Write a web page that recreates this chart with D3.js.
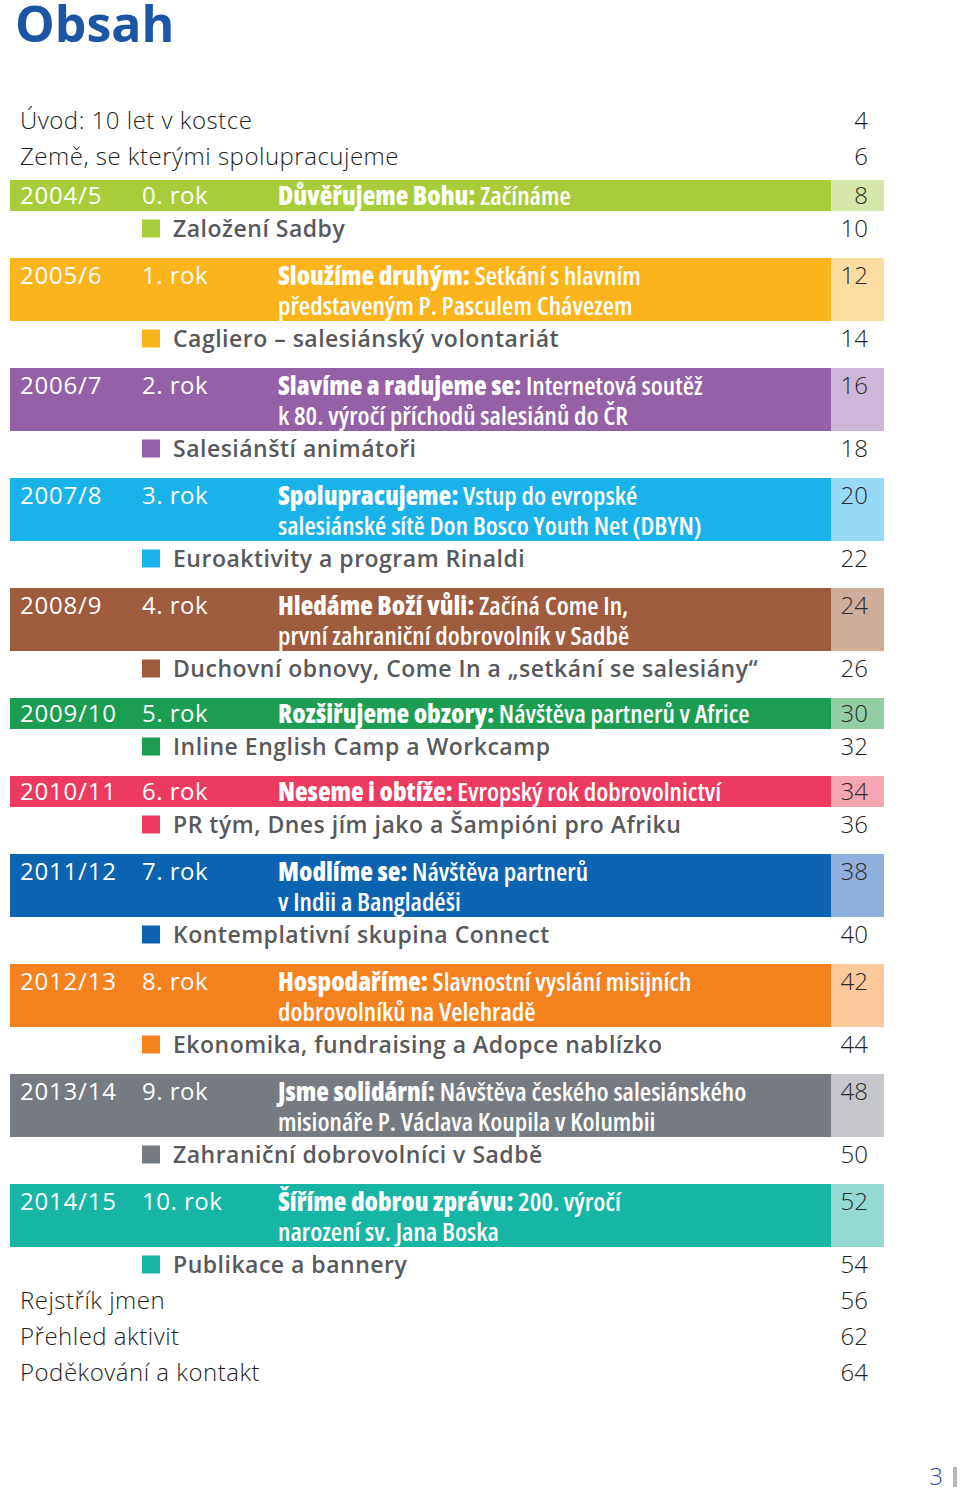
<!DOCTYPE html>
<html>
<head>
<meta charset="utf-8">
<title>Obsah</title>
<script src="https://cdn.jsdelivr.net/npm/d3@7"></script>
<style>
  body { margin: 0; background: #fff; }
  svg { display: block; }
</style>
</head>
<body>
<div id="page"></div>
<script>
// ---- data ----
var introItems = ["Úvod: 10 let v kostce", "Země, se kterými spolupracujeme"];
var introPages = [4, 6];

var years = ["2004/5", "2005/6", "2006/7", "2007/8", "2008/9", "2009/10", "2010/11", "2011/12", "2012/13", "2013/14", "2014/15"];
var yearLabels = ["0. rok", "1. rok", "2. rok", "3. rok", "4. rok", "5. rok", "6. rok", "7. rok", "8. rok", "9. rok", "10. rok"];
var titleBold = ["Důvěřujeme Bohu:", "Sloužíme druhým:", "Slavíme a radujeme se:", "Spolupracujeme:", "Hledáme Boží vůli:",
  "Rozšiřujeme obzory:", "Neseme i obtíže:", "Modlíme se:", "Hospodaříme:", "Jsme solidární:", "Šíříme dobrou zprávu:"];
var titleLine1 = ["Začínáme", "Setkání s hlavním", "Internetová soutěž", "Vstup do evropské", "Začíná Come In,",
  "Návštěva partnerů v Africe", "Evropský rok dobrovolnictví", "Návštěva partnerů", "Slavnostní vyslání misijních",
  "Návštěva českého salesiánského", "200. výročí"];
var titleLine2 = ["", "představeným P. Pasculem Chávezem", "k 80. výročí příchodů salesiánů do ČR",
  "salesiánské sítě Don Bosco Youth Net (DBYN)", "první zahraniční dobrovolník v Sadbě", "", "",
  "v Indii a Bangladéši", "dobrovolníků na Velehradě", "misionáře P. Václava Koupila v Kolumbii", "narození sv. Jana Boska"];
var yearPages = [8, 12, 16, 20, 24, 30, 34, 38, 42, 48, 52];

var subItems = ["Založení Sadby", "Cagliero – salesiánský volontariát", "Salesiánští animátoři", "Euroaktivity a program Rinaldi",
  "Duchovní obnovy, Come In a „setkání se salesiány“", "Inline English Camp a Workcamp",
  "PR tým, Dnes jím jako a Šampióni pro Afriku", "Kontemplativní skupina Connect",
  "Ekonomika, fundraising a Adopce nablízko", "Zahraniční dobrovolníci v Sadbě", "Publikace a bannery"];
var subPages = [10, 14, 18, 22, 26, 32, 36, 40, 44, 50, 54];

var bandColors = ["#a9cd3a", "#fbb41b", "#9660a6", "#1ab2ea", "#9e5b3e", "#1b9d52", "#ec3b5e", "#0b63b1", "#f5821f", "#767b81", "#17b5a6"];
var lightColors = ["#d7e7aa", "#fddca2", "#cdb6d8", "#98d9f5", "#d0ad9a", "#93cea2", "#f6a6b3", "#8fafdc", "#fbc99b", "#c5c7ca", "#96d9d1"];

var outroItems = ["Rejstřík jmen", "Přehled aktivit", "Poděkování a kontakt"];
var outroPages = [56, 62, 64];

// ---- layout ----
var W = 960, H = 1492;
var sans = "'Open Sans', 'DejaVu Sans', sans-serif";

var svg = d3.select("#page").append("svg").attr("width", W).attr("height", H);

// columns
var col = { left: 10, year: 20, rok: 142, title: 278, light: 831, right: 884, page: 868, square: 142, sub: 173 };

// vertical stacking of the year blocks
var blocks = [];
var yCursor = 180;
years.forEach(function(y, i) {
  var lines = titleLine2[i] ? 2 : 1;
  var h = lines == 2 ? 63 : 31;
  blocks.push({ i: i, y0: yCursor, h: h, lines: lines });
  yCursor += h + 47;
});

// title
svg.append("text")
  .attr("x", 15).attr("y", 42)
  .style("font-family", sans).style("font-weight", 700).style("font-size", "50px")
  .style("fill", "#1b55a3")
  .text("Obsah");

function plainRow(label, page, cy) {
  svg.append("text").attr("x", col.year).attr("y", cy).attr("dy", "0.35em")
    .style("font-family", sans).style("font-weight", 300).style("font-size", "24px")
    .style("letter-spacing", "0.5px").style("fill", "#231f20")
    .text(label);
  svg.append("text").attr("x", col.page).attr("y", cy).attr("dy", "0.35em").attr("text-anchor", "end")
    .style("font-family", sans).style("font-weight", 300).style("font-size", "24px").style("fill", "#231f20")
    .text(page);
}

introItems.forEach(function(d, i) { plainRow(d, introPages[i], 121 + 36 * i); });

blocks.forEach(function(b) {
  var i = b.i;
  var g = svg.append("g");
  g.append("rect").attr("x", col.left).attr("y", b.y0).attr("width", col.light - col.left).attr("height", b.h)
    .attr("fill", bandColors[i]);
  g.append("rect").attr("x", col.light).attr("y", b.y0).attr("width", col.right - col.light).attr("height", b.h)
    .attr("fill", lightColors[i]);

  var y1 = b.y0 + (b.lines == 2 ? 18 : 15.5);
  g.append("text").attr("x", col.year).attr("y", y1).attr("dy", "0.35em")
    .style("font-family", sans).style("font-weight", 500).style("font-size", "24px")
    .style("letter-spacing", "0.8px").style("fill", "#fff")
    .text(years[i]);
  g.append("text").attr("x", col.rok).attr("y", y1).attr("dy", "0.35em")
    .style("font-family", sans).style("font-weight", 500).style("font-size", "24px")
    .style("letter-spacing", "0.5px").style("fill", "#fff")
    .text(yearLabels[i]);

  var t = g.append("text").attr("x", col.title).attr("y", y1).attr("dy", "0.35em")
    .style("font-family", sans).style("font-stretch", "75%").style("font-size", "26px").style("fill", "#fff");
  t.append("tspan").style("font-weight", 800).text(titleBold[i] + " ");
  t.append("tspan").style("font-weight", 600).text(titleLine1[i]);
  if (titleLine2[i]) {
    g.append("text").attr("x", col.title).attr("y", y1 + 30).attr("dy", "0.35em")
      .style("font-family", sans).style("font-stretch", "75%").style("font-weight", 600)
      .style("font-size", "26px").style("fill", "#fff")
      .text(titleLine2[i]);
  }
  g.append("text").attr("x", col.page).attr("y", y1).attr("dy", "0.35em").attr("text-anchor", "end")
    .style("font-family", sans).style("font-weight", 300).style("font-size", "24px").style("fill", "#2b2b2b")
    .text(yearPages[i]);

  // sub item
  var cy = b.y0 + b.h + 17.5;
  g.append("rect").attr("x", col.square).attr("y", cy - 9).attr("width", 18).attr("height", 18)
    .attr("fill", bandColors[i]);
  g.append("text").attr("x", col.sub).attr("y", cy).attr("dy", "0.35em")
    .style("font-family", sans).style("font-weight", 600).style("font-size", "23px")
    .style("letter-spacing", "0.5px").style("fill", "#58595b")
    .text(subItems[i]);
  g.append("text").attr("x", col.page).attr("y", cy).attr("dy", "0.35em").attr("text-anchor", "end")
    .style("font-family", sans).style("font-weight", 300).style("font-size", "24px").style("fill", "#231f20")
    .text(subPages[i]);
});

var last = blocks[blocks.length - 1];
var outStart = last.y0 + last.h + 17.5 + 36;
outroItems.forEach(function(d, i) { plainRow(d, outroPages[i], outStart + 36 * i); });

// folio
svg.append("text").attr("x", 943).attr("y", 1477).attr("dy", "0.35em").attr("text-anchor", "end")
  .style("font-family", sans).style("font-weight", 300).style("font-size", "24px").style("fill", "#1b55a3")
  .text("3");
svg.append("rect").attr("x", 953).attr("y", 1467).attr("width", 4).attr("height", 20).attr("fill", "#b5b7ba");
</script>
</body>
</html>
